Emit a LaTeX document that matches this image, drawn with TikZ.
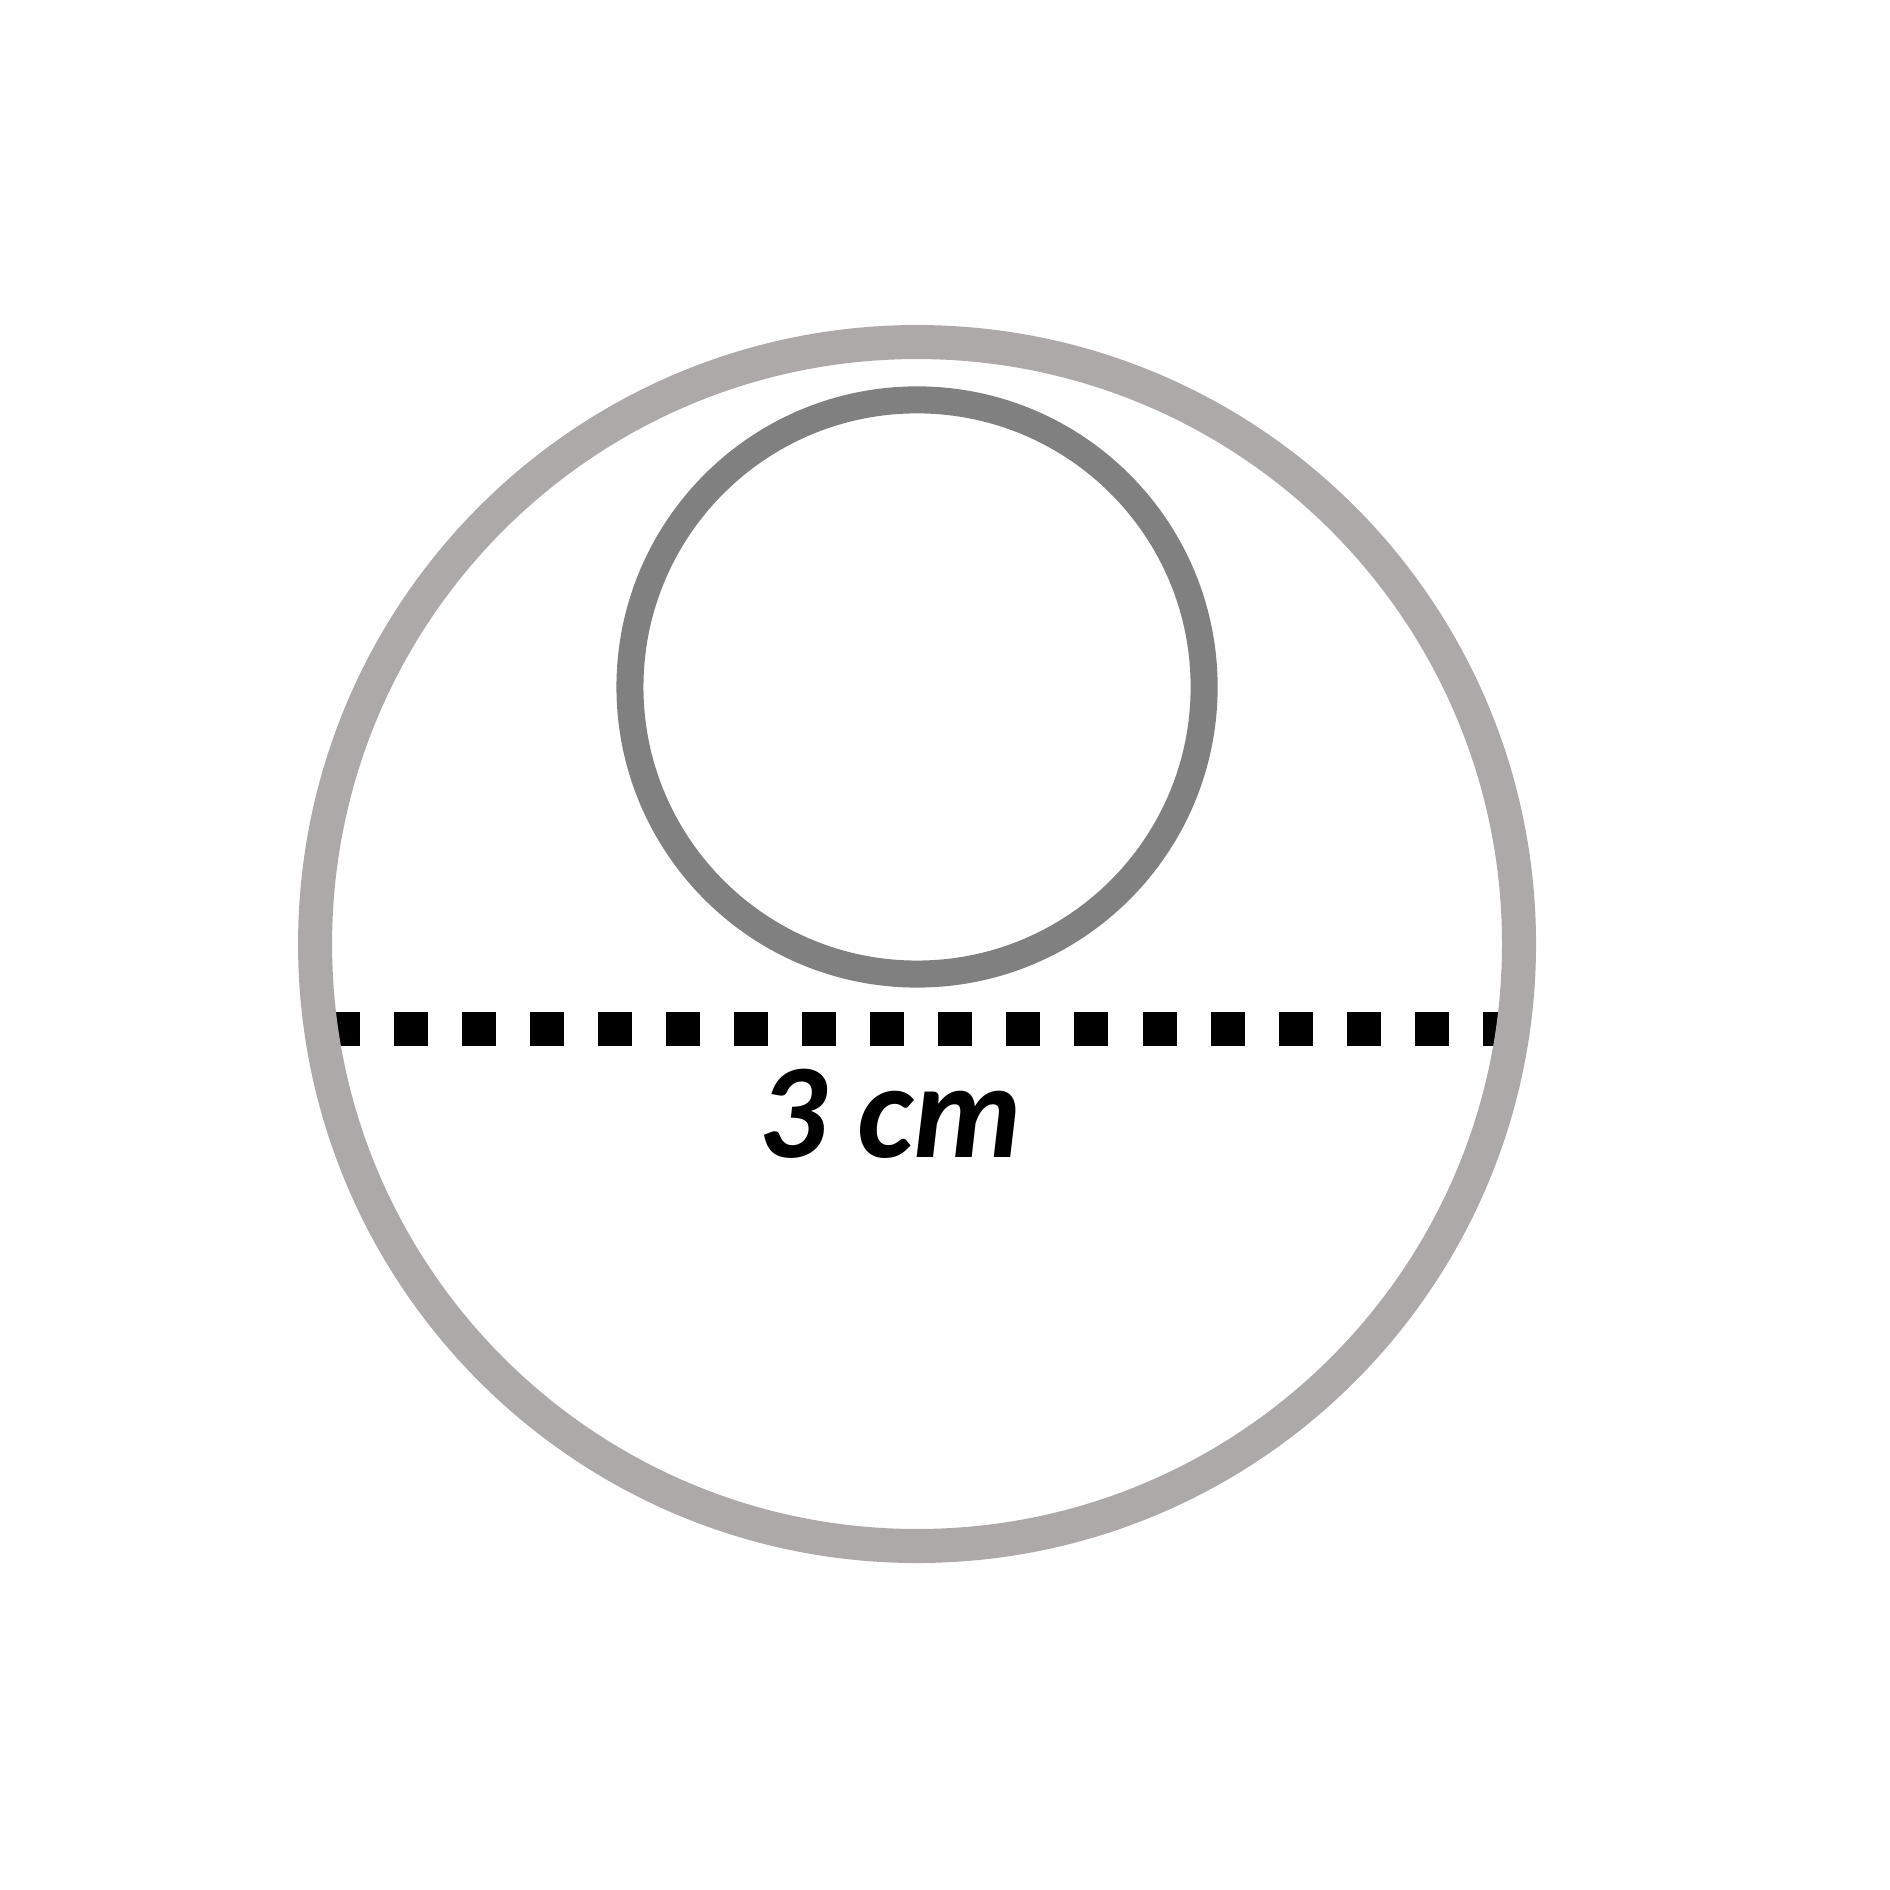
\documentclass[tikz,border=0pt]{standalone}
\usepackage{fontspec}
\setmainfont{Carlito}
\definecolor{ringgray}{HTML}{ADA9A8}
\definecolor{holegray}{HTML}{808080}
\begin{document}
\begin{tikzpicture}[line join=round,
	outer ring/.style={ringgray,line width=0.18cm},
	inner ring/.style={holegray,line width=0.143cm},
	measure/.style={black,line width=0.18cm,line cap=butt,dash pattern=on 0.18cm off 0.18cm},
	label/.style={font=\fontsize{20.3}{24}\selectfont\bfseries\itshape,inner sep=0pt,anchor=base}]
			\useasboundingbox (0,0) rectangle (10,10);
			\coordinate (O) at (4.852,5.005);
			\coordinate (P) at (4.852,6.365);
			\coordinate (A) at (1.725,4.556);
			\coordinate (B) at (8.021,4.556);
			\draw[measure] (A)--(B);
			\draw[outer ring] (O) circle(3.185);
			\draw[inner ring] (P) circle(1.519);
			\node[label] (len) at (4.709,3.873) {3 cm};
	\end{tikzpicture}
\end{document}
